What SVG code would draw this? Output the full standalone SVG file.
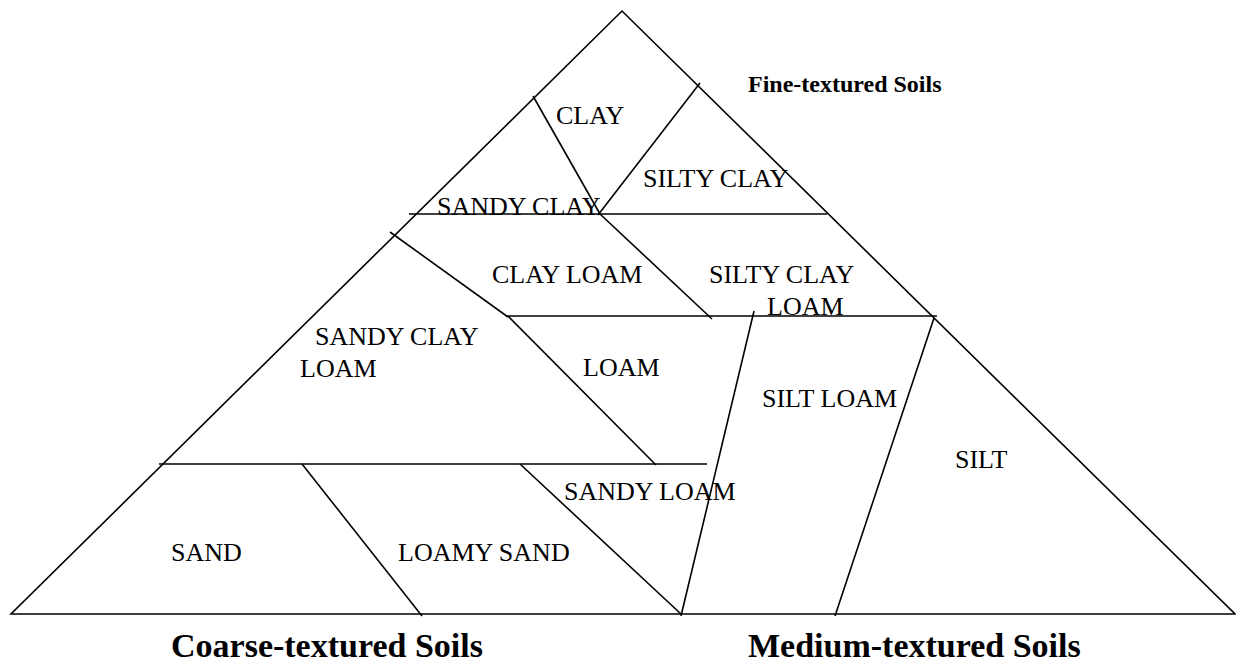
<svg xmlns="http://www.w3.org/2000/svg" width="1236" height="663" viewBox="0 0 1236 663">
<style>
.ln{stroke:#000;stroke-width:1.6;fill:none;stroke-linecap:butt}
.lb{font-family:"Liberation Serif","Times New Roman",serif;font-size:26px;fill:#000}
.bd{font-family:"Liberation Serif","Times New Roman",serif;font-weight:bold;fill:#000}
</style>
<rect width="1236" height="663" fill="#fff"/>
<g id="outline">
<polygon class="ln" points="622,11 11,614 1235,614"/>
</g>
<g id="connectors">
<line class="ln" x1="409" y1="214" x2="827" y2="214"/>
<line class="ln" x1="533" y1="96" x2="600" y2="214"/>
<line class="ln" x1="700" y1="83" x2="598" y2="215"/>
<line class="ln" x1="600" y1="214" x2="712" y2="319"/>
<line class="ln" x1="390" y1="232" x2="508" y2="317"/>
<line class="ln" x1="506" y1="316" x2="937" y2="316"/>
<line class="ln" x1="508" y1="316" x2="656" y2="465"/>
<line class="ln" x1="159" y1="464" x2="707" y2="464"/>
<line class="ln" x1="302" y1="464" x2="422" y2="616"/>
<line class="ln" x1="520" y1="464" x2="681" y2="614"/>
<line class="ln" x1="754" y1="311" x2="681" y2="616"/>
<line class="ln" x1="934" y1="318" x2="835" y2="616"/>
</g>
<g id="clay"><text class="lb" x="556" y="124">CLAY</text></g>
<g id="silty-clay"><text class="lb" x="643" y="187">SILTY CLAY</text></g>
<g id="sandy-clay"><text class="lb" x="437" y="215">SANDY CLAY</text></g>
<g id="clay-loam"><text class="lb" x="492" y="283">CLAY LOAM</text></g>
<g id="silty-clay-loam"><text class="lb" x="709" y="283">SILTY CLAY</text><text class="lb" x="767" y="315">LOAM</text></g>
<g id="sandy-clay-loam"><text class="lb" x="315" y="345">SANDY CLAY</text><text class="lb" x="300" y="377">LOAM</text></g>
<g id="loam"><text class="lb" x="583" y="376">LOAM</text></g>
<g id="silt-loam"><text class="lb" x="762" y="407">SILT LOAM</text></g>
<g id="silt"><text class="lb" x="955" y="468">SILT</text></g>
<g id="sandy-loam"><text class="lb" x="564" y="500">SANDY LOAM</text></g>
<g id="sand"><text class="lb" x="171" y="561">SAND</text></g>
<g id="loamy-sand"><text class="lb" x="398" y="561">LOAMY SAND</text></g>
<g id="fine"><text class="bd" x="748" y="92" font-size="24">Fine-textured Soils</text></g>
<g id="coarse"><text class="bd" x="171" y="657" font-size="34">Coarse-textured Soils</text></g>
<g id="medium"><text class="bd" x="748" y="657" font-size="34">Medium-textured Soils</text></g>
</svg>
